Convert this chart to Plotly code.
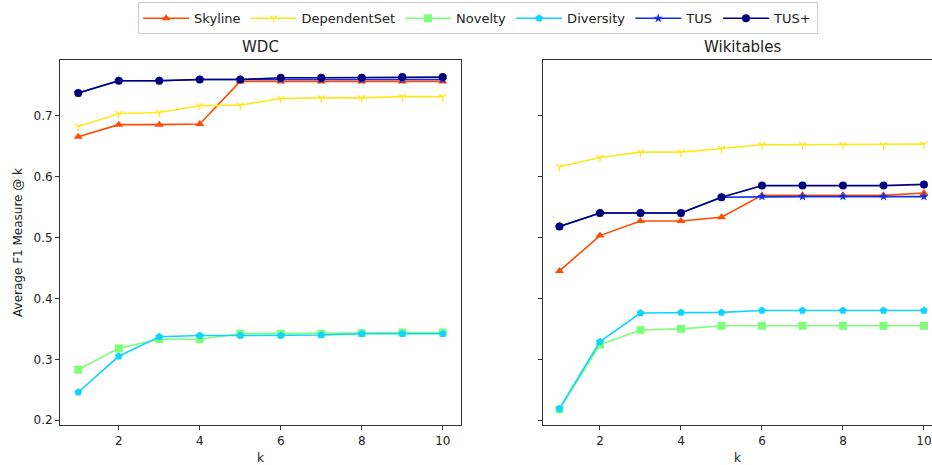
import plotly.graph_objects as go

k = [1, 2, 3, 4, 5, 6, 7, 8, 9, 10]

# WDC results
wdc_skyline = [0.665, 0.685, 0.685, 0.686, 0.756, 0.756, 0.756, 0.756, 0.756, 0.756]
wdc_dependent = [0.682, 0.703, 0.705, 0.716, 0.717, 0.728, 0.729, 0.729, 0.731, 0.731]
wdc_novelty = [0.283, 0.318, 0.333, 0.333, 0.342, 0.342, 0.342, 0.343, 0.344, 0.344]
wdc_diversity = [0.246, 0.305, 0.337, 0.339, 0.339, 0.339, 0.340, 0.342, 0.342, 0.342]
wdc_tus = [0.737, 0.757, 0.757, 0.759, 0.759, 0.759, 0.759, 0.759, 0.759, 0.759]
wdc_tus_plus = [0.737, 0.757, 0.757, 0.759, 0.759, 0.762, 0.762, 0.762, 0.763, 0.763]

# Wikitables results
wiki_skyline = [0.445, 0.503, 0.527, 0.527, 0.533, 0.569, 0.569, 0.569, 0.569, 0.573]
wiki_dependent = [0.616, 0.631, 0.640, 0.640, 0.646, 0.652, 0.652, 0.652, 0.652, 0.653]
wiki_novelty = [0.218, 0.324, 0.348, 0.350, 0.355, 0.355, 0.355, 0.355, 0.355, 0.355]
wiki_diversity = [0.219, 0.329, 0.376, 0.377, 0.377, 0.380, 0.380, 0.380, 0.380, 0.380]
wiki_tus = [0.518, 0.540, 0.540, 0.540, 0.566, 0.567, 0.567, 0.567, 0.567, 0.567]
wiki_tus_plus = [0.518, 0.540, 0.540, 0.540, 0.566, 0.585, 0.585, 0.585, 0.585, 0.587]

methods = ["Skyline", "DependentSet", "Novelty", "Diversity", "TUS", "TUS+"]
colors = ["#ff4a00", "#ffe81a", "#7dff7a", "#10d4ff", "#1030f0", "#00007f"]
symbols = ["triangle-up", "y-down-open", "square", "pentagon", "star", "circle"]
sizes = [8, 6, 8, 8, 7, 8]

wdc = [wdc_skyline, wdc_dependent, wdc_novelty, wdc_diversity, wdc_tus, wdc_tus_plus]
wiki = [wiki_skyline, wiki_dependent, wiki_novelty, wiki_diversity, wiki_tus, wiki_tus_plus]

fig = go.Figure()
for i, name in enumerate(methods):
    marker = dict(symbol=symbols[i], size=sizes[i], color=colors[i],
                  line=dict(color=colors[i], width=1.3 if "open" in symbols[i] else 0))
    fig.add_trace(go.Scatter(x=k, y=wdc[i], name=name, mode="lines+markers",
                             line=dict(color=colors[i], width=1.6), marker=marker,
                             xaxis="x", yaxis="y", legendgroup=name, cliponaxis=False))
    fig.add_trace(go.Scatter(x=k, y=wiki[i], name=name, mode="lines+markers",
                             line=dict(color=colors[i], width=1.6), marker=marker,
                             xaxis="x2", yaxis="y2", legendgroup=name, showlegend=False,
                             cliponaxis=False))

axis_common = dict(showgrid=False, zeroline=False, showline=True, linecolor="#333333",
                   linewidth=1, ticks="outside", ticklen=4, tickcolor="#333333",
                   tickfont=dict(family="DejaVu Sans", size=12, color="#222222"))

y_range = [0.192, 0.7915]

fig.update_layout(
    width=932, height=465,
    margin=dict(l=0, r=0, t=0, b=0),
    paper_bgcolor="white", plot_bgcolor="white",
    font=dict(family="DejaVu Sans", color="#222222"),
    xaxis=dict(domain=[60 / 932, 461 / 932], range=[0.55, 10.45], mirror=True,
               tickvals=[2, 4, 6, 8, 10], anchor="y",
               title=dict(text="k", font=dict(size=12), standoff=8), **axis_common),
    yaxis=dict(domain=[38 / 465, 405 / 465], range=y_range, mirror=True,
               tickvals=[0.2, 0.3, 0.4, 0.5, 0.6, 0.7], anchor="x",
               title=dict(text="Average F1 Measure @ k", font=dict(size=12), standoff=8),
               **axis_common),
    xaxis2=dict(domain=[543 / 932, 1.0], range=[0.593, 10.198], mirror=True,
                tickvals=[2, 4, 6, 8, 10], anchor="y2",
                title=dict(text="k", font=dict(size=12), standoff=8), **axis_common),
    yaxis2=dict(domain=[38 / 465, 405 / 465], range=y_range, mirror=False,
                tickvals=[0.2, 0.3, 0.4, 0.5, 0.6, 0.7], showticklabels=False,
                anchor="x2", **axis_common),
    legend=dict(orientation="h", x=0.513, xanchor="center", y=0.995, yanchor="top",
                bordercolor="#cccccc", borderwidth=1, bgcolor="white",
                itemwidth=46,
                font=dict(family="DejaVu Sans", size=13, color="#222222")),
    annotations=[
        dict(text="WDC", x=(60 + 461) / 2 / 932, y=405 / 465, xref="paper", yref="paper",
             xanchor="center", yanchor="bottom", yshift=2, showarrow=False,
             font=dict(family="DejaVu Sans", size=15, color="#222222")),
        dict(text="Wikitables", x=(543 + 942) / 2 / 932, y=405 / 465, xref="paper",
             yref="paper", xanchor="center", yanchor="bottom", yshift=2, showarrow=False,
             font=dict(family="DejaVu Sans", size=15, color="#222222")),
    ],
)

fig.write_html("out.html")
